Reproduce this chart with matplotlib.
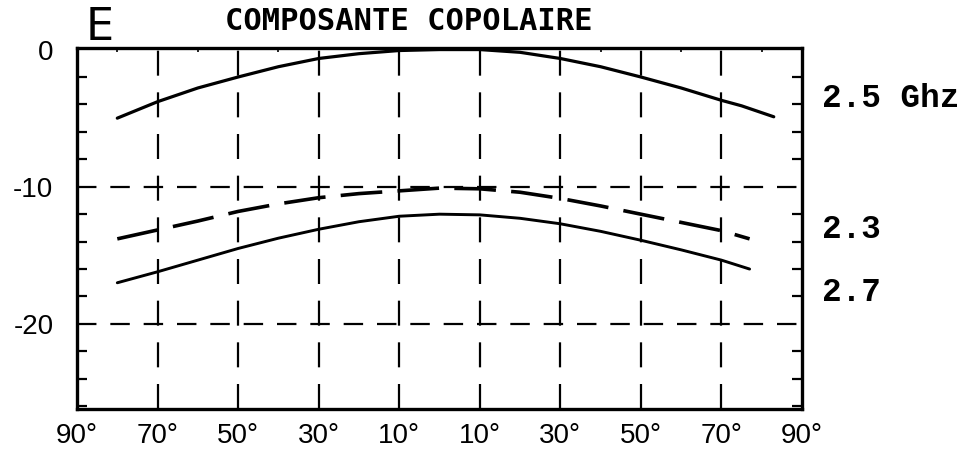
import numpy as np
import matplotlib
matplotlib.use("Agg")
import matplotlib.pyplot as plt
import matplotlib.transforms as mtransforms
from matplotlib.ticker import FixedLocator, FuncFormatter

# angles (deg) and relative level (dB) for each frequency
angles_25 = [-80, -75, -70, -60, -50, -40, -30, -20, -10, 0, 10, 20, 30, 40, 50, 60, 70, 75, 80, 83]
level_25 = [-5.0, -4.4, -3.8, -2.8, -2.0, -1.25, -0.65, -0.3, -0.07, 0.0, 0.0, -0.2, -0.65, -1.25, -2.0, -2.8, -3.7, -4.1, -4.6, -4.9]

angles_23 = [-80, -70, -60, -50, -40, -30, -20, -10, 0, 10, 20, 30, 40, 50, 60, 70, 77]
level_23 = [-13.8, -13.15, -12.5, -11.8, -11.25, -10.8, -10.5, -10.3, -10.1, -10.15, -10.4, -10.85, -11.4, -12.0, -12.6, -13.2, -13.8]

angles_27 = [-80, -70, -60, -50, -40, -30, -20, -10, 0, 10, 20, 30, 40, 50, 60, 70, 77]
level_27 = [-17.0, -16.2, -15.35, -14.5, -13.75, -13.1, -12.55, -12.15, -12.0, -12.05, -12.3, -12.7, -13.25, -13.9, -14.6, -15.35, -16.0]

grid_angles = [-70, -50, -30, -10, 10, 30, 50, 70]
grid_levels = [-10, -20]
xtick_angles = [-90, -70, -50, -30, -10, 10, 30, 50, 70, 90]
ytick_levels = [0, -10, -20]

plt.rcParams['lines.scale_dashes'] = False
plt.rcParams['lines.solid_capstyle'] = 'round'
tick_font = ['Liberation Sans Narrow', 'Liberation Sans', 'DejaVu Sans']

fig = plt.figure(figsize=(9.64, 4.59), dpi=100)
ax = fig.add_axes([0.0799, 0.109, 0.752, 0.786])

# dashed reference grid
for a in grid_angles:
    ax.axvline(a, color='black', lw=1.6, dashes=(18, 12), zorder=1)
for g in grid_levels:
    ax.axhline(g, color='black', lw=1.6, dashes=(14, 10), zorder=1)

ax.plot(angles_25, level_25, color='black', lw=2.3, zorder=3)
ax.plot(angles_23, level_23, color='black', lw=2.6, dashes=(30, 11), zorder=3)
ax.plot(angles_27, level_27, color='black', lw=2.1, zorder=3)

ax.set_xlim(-90, 90)
ax.set_ylim(-26.2, 0.1)

for s in ax.spines.values():
    s.set_linewidth(2.4)

ax.set_xticks(xtick_angles)
ax.xaxis.set_major_formatter(FuncFormatter(lambda v, p: f"{abs(int(round(v)))}°"))
ax.set_yticks(ytick_levels)
ax.set_yticklabels([f"{v}" for v in ytick_levels])
ax.yaxis.set_minor_locator(FixedLocator(np.arange(-26, 0, 2)))
ax.xaxis.set_minor_locator(FixedLocator([-80, -60, -40, 40, 60, 80]))

ax.tick_params(axis='x', which='major', direction='in', length=4, width=1.2,
               bottom=True, top=False, pad=10, labelsize=20)
ax.tick_params(axis='x', which='minor', direction='in', length=3, width=1.2,
               bottom=False, top=True)
ax.tick_params(axis='y', which='major', direction='in', length=0, pad=17, labelsize=20)
ax.tick_params(axis='y', which='minor', direction='in', length=7, width=1.6,
               left=True, right=True)
for lab in ax.get_xticklabels() + ax.get_yticklabels():
    lab.set_family(tick_font)

# frequency labels beside the right spine
trans = mtransforms.blended_transform_factory(ax.transAxes, ax.transData)
ax.text(1.027, -3.6, "2.5 Ghz", transform=trans, ha='left', va='center',
        family='Liberation Mono', fontweight='bold', fontsize=23.5)
ax.text(1.027, -13.1, "2.3", transform=trans, ha='left', va='center',
        family='Liberation Mono', fontweight='bold', fontsize=23.5)
ax.text(1.027, -17.7, "2.7", transform=trans, ha='left', va='center',
        family='Liberation Mono', fontweight='bold', fontsize=23.5)

fig.text(0.103, 0.940, "E", ha='center', va='center', fontsize=32, family='DejaVu Sans')
fig.text(0.424, 0.954, "COMPOSANTE COPOLAIRE", ha='center', va='center',
         fontsize=22, family='DejaVu Sans Mono', fontweight='bold')

fig.savefig("out.png", dpi=100)
